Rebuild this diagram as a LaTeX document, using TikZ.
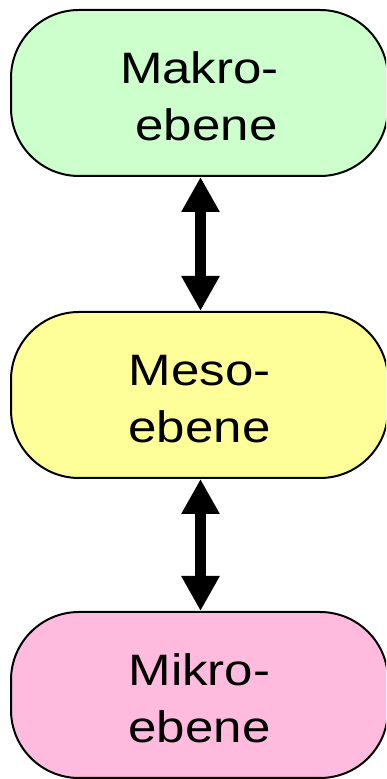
\documentclass[tikz,border=0pt]{standalone}
\usepackage{fontspec}
\usepackage{graphicx}
\setmainfont{Liberation Sans}
\usetikzlibrary{arrows.meta}
\definecolor{makro}{HTML}{CCFFCC}
\definecolor{meso}{HTML}{FFFF99}
\definecolor{mikro}{HTML}{FFBBDD}
\newcommand{\leveltext}[2]{\smash{\raisebox{9.5pt}{\scalebox{1.16}[1]{\fontsize{44}{57}\selectfont\begin{tabular}[t]{@{}c@{}}#1\\#2\end{tabular}}}}}
\tikzset{
  levelbox/.style={draw=black, line width=2pt, rounded corners=68pt,
    minimum width=377pt, minimum height=166pt, inner sep=0pt},
  bothway/.style={line width=11.5pt,
    {Triangle[width=36pt,length=35pt]}-{Triangle[width=36pt,length=35pt]}}
}
\begin{document}
\begin{tikzpicture}[x=1pt,y=1pt]
\useasboundingbox (0,0) rectangle (386,779);
\clip (0,0) rectangle (386,779);
\node[levelbox, fill=makro] (makro) at (199.5,686) {\leveltext{Makro-}{\hspace*{12pt}ebene}};
\node[levelbox, fill=meso] (meso) at (199.5,384) {\leveltext{Meso-}{ebene}};
\node[levelbox, fill=mikro] (mikro) at (199.5,84) {\leveltext{Mikro-}{ebene}};
\draw[bothway] (makro.south -| 200.5,0) -- (meso.north -| 200.5,0);
\draw[bothway] (meso.south -| 200.5,0) -- (mikro.north -| 200.5,0);
\end{tikzpicture}
\end{document}
